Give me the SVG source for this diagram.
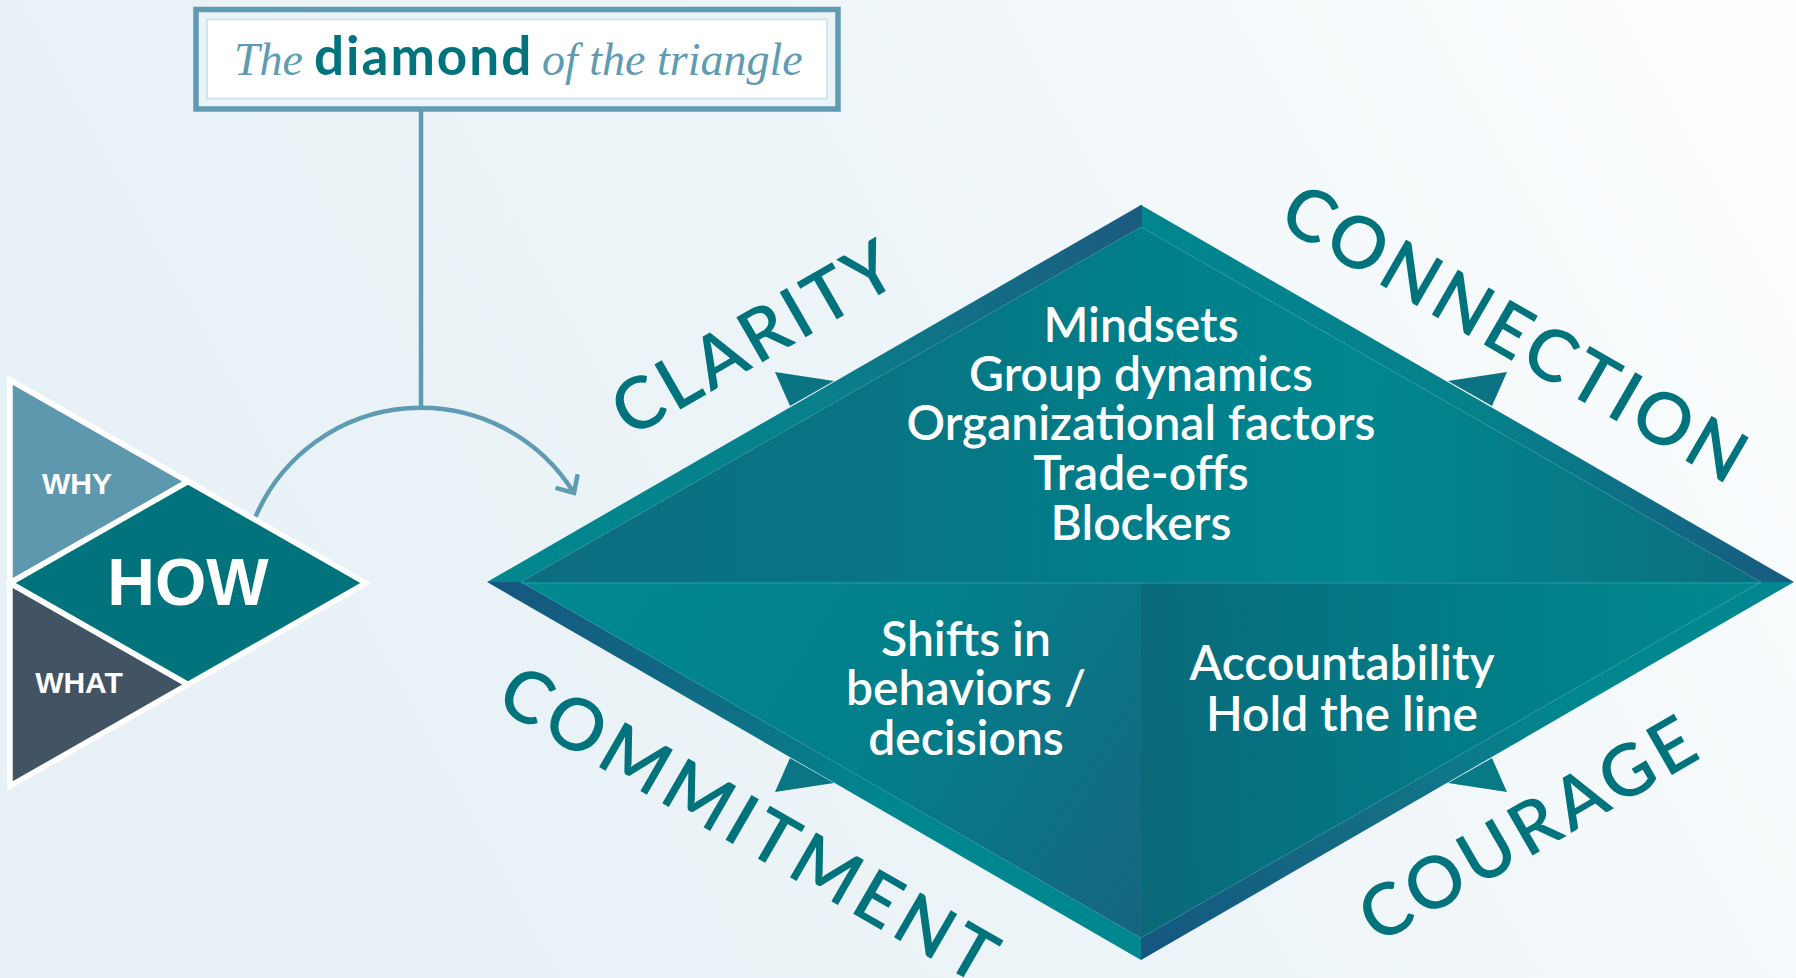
<svg xmlns="http://www.w3.org/2000/svg" width="1796" height="978" viewBox="0 0 1796 978">
<defs>
<style>
.lbl{font-family:Lato,"Noto Sans",sans-serif;font-weight:600;font-size:72px;fill:#00737d;text-anchor:middle}
.wt{font-family:Lato,"Noto Sans",sans-serif;font-weight:600;font-size:48px;fill:#ffffff;text-anchor:middle}
.tri{stroke:#ffffff;stroke-width:5.5;stroke-linejoin:miter}
.tt{font-family:"Liberation Sans",Arial,sans-serif;font-weight:bold;fill:#ffffff;text-anchor:middle}
.conn{fill:none;stroke:#5f9bb2;stroke-width:4.5}
</style>
<linearGradient id="bg" x1="0" y1="0.6" x2="1" y2="0.3">
<stop offset="0" stop-color="#e6f0f5"/><stop offset="0.55" stop-color="#eef5f8"/><stop offset="1" stop-color="#fbfdfe"/>
</linearGradient>
<linearGradient id="gUL" gradientUnits="userSpaceOnUse" x1="487" y1="582" x2="1141" y2="205">
<stop offset="0" stop-color="#00888f"/><stop offset="0.5" stop-color="#08808b"/><stop offset="1" stop-color="#1d5a80"/>
</linearGradient>
<linearGradient id="gUR" gradientUnits="userSpaceOnUse" x1="1141" y1="205" x2="1794" y2="582">
<stop offset="0" stop-color="#00868f"/><stop offset="0.55" stop-color="#06808b"/><stop offset="1" stop-color="#185a80"/>
</linearGradient>
<linearGradient id="gLL" gradientUnits="userSpaceOnUse" x1="487" y1="582" x2="1141" y2="960">
<stop offset="0" stop-color="#16567f"/><stop offset="0.35" stop-color="#0f6e85"/><stop offset="0.6" stop-color="#00868f"/><stop offset="1" stop-color="#00888f"/>
</linearGradient>
<linearGradient id="gLR" gradientUnits="userSpaceOnUse" x1="1141" y1="960" x2="1794" y2="582">
<stop offset="0" stop-color="#15567f"/><stop offset="0.4" stop-color="#137085"/><stop offset="0.65" stop-color="#00868f"/><stop offset="1" stop-color="#00888f"/>
</linearGradient>
<linearGradient id="gTop" gradientUnits="userSpaceOnUse" x1="521" y1="0" x2="1761" y2="0">
<stop offset="0" stop-color="#0d6d80"/><stop offset="0.3" stop-color="#087584"/><stop offset="0.5" stop-color="#007e89"/><stop offset="0.68" stop-color="#00878f"/><stop offset="0.85" stop-color="#067a86"/><stop offset="1" stop-color="#0d6e80"/>
</linearGradient>
<linearGradient id="gBL" gradientUnits="userSpaceOnUse" x1="580" y1="582" x2="1141" y2="938">
<stop offset="0" stop-color="#00888f"/><stop offset="0.5" stop-color="#027f8a"/><stop offset="1" stop-color="#176580"/>
</linearGradient>
<linearGradient id="gBR" gradientUnits="userSpaceOnUse" x1="1141" y1="620" x2="1761" y2="582">
<stop offset="0" stop-color="#0a6a7a"/><stop offset="0.5" stop-color="#017c87"/><stop offset="1" stop-color="#00898f"/>
</linearGradient>
<marker id="arr" markerUnits="userSpaceOnUse" markerWidth="40" markerHeight="40" viewBox="-20 -20 40 40" refX="0" refY="0" orient="auto">
<path d="M -14 -13 L 0 0 L -14 13" fill="none" stroke="#5f9bb2" stroke-width="4.5"/>
</marker>
</defs>
<rect x="0" y="0" width="1796" height="978" fill="url(#bg)"/>

<g id="title">
<rect x="196" y="9.5" width="642" height="99.5" fill="#eaf3f7" stroke="#5f9bb2" stroke-width="5.5"/>
<rect x="207" y="19.5" width="620" height="79" fill="#ffffff" stroke="#c9dee7" stroke-width="1.5"/>
<text y="75" font-size="46"><tspan x="234" font-family="'Liberation Serif',serif" font-style="italic" fill="#5f9bb2">The</tspan><tspan x="314" font-family="Lato,'Noto Sans',sans-serif" font-weight="bold" font-size="53" letter-spacing="2" fill="#00737d">diamond</tspan><tspan x="542" font-family="'Liberation Serif',serif" font-style="italic" fill="#5f9bb2">of the triangle</tspan></text>
</g>

<g id="connectors">
<line x1="421" y1="110" x2="421" y2="409" class="conn"/>
<path d="M 255.6 516.7 A 180 180 0 0 1 574 493" class="conn" marker-end="url(#arr)"/>
</g>

<g id="node-why">
<polygon points="10,380 188,481.5 10,583" fill="#5e98ae" class="tri"/>
<text x="77" y="494" font-size="30" class="tt">WHY</text>
</g>
<g id="node-what">
<polygon points="10,583 188,684.5 10,786" fill="#425463" class="tri"/>
<text x="79" y="693" font-size="30" class="tt">WHAT</text>
</g>
<g id="node-how">
<polygon points="10,583 188,481.5 366,583 188,684.5" fill="#00737d" class="tri"/>
<text x="188" y="605" font-size="66" class="tt">HOW</text>
</g>

<g id="diamond">
<polygon points="487,582 1141,205 1141,227 521,582" fill="url(#gUL)"/>
<polygon points="1141,205 1794,582 1761,582 1141,227" fill="url(#gUR)"/>
<polygon points="487,582 521,582 1141,938 1141,960" fill="url(#gLL)"/>
<polygon points="1141,960 1141,938 1761,582 1794,582" fill="url(#gLR)"/>
<line x1="1141" y1="205" x2="1141" y2="227" stroke="#175a7e" stroke-width="1.5"/>
<polygon points="790,406 775,372 834,381" fill="#0b7483"/>
<polygon points="1492,406 1507,372 1448,381" fill="#0a7282"/>
<polygon points="790,758 775,792 834,783" fill="#0a7585"/>
<polygon points="1492,758 1507,792 1448,783" fill="#077a86"/>
</g>

<g id="node-top">
<polygon points="521,582 1141,227 1761,582" fill="url(#gTop)"/>
<text class="wt"><tspan x="1141" y="342">Mindsets</tspan><tspan x="1141" y="391">Group dynamics</tspan><tspan x="1141" y="440">Organizational factors</tspan><tspan x="1141" y="490">Trade-offs</tspan><tspan x="1141" y="540">Blockers</tspan></text>
</g>
<g id="node-bottom-left">
<polygon points="521,582 1141,582 1141,938" fill="url(#gBL)"/>
<text class="wt"><tspan x="966" y="656">Shifts in</tspan><tspan x="966" y="705">behaviors /</tspan><tspan x="966" y="755">decisions</tspan></text>
</g>
<g id="node-bottom-right">
<polygon points="1141,582 1761,582 1141,938" fill="url(#gBR)"/>
<text class="wt"><tspan x="1342" y="680">Accountability</tspan><tspan x="1342" y="731">Hold the line</tspan></text>
</g>
<line x1="521" y1="583" x2="1761" y2="583" stroke="#2a98a3" stroke-width="1.2"/>

<g id="labels">
<text class="lbl" transform="translate(766,360) rotate(-30)" textLength="314" lengthAdjust="spacing">CLARITY</text>
<text class="lbl" transform="translate(1502,355) rotate(30)" textLength="522" lengthAdjust="spacing">CONNECTION</text>
<text class="lbl" transform="translate(736,846) rotate(30)" textLength="560" lengthAdjust="spacing">COMMITMENT</text>
<text class="lbl" transform="translate(1540,851) rotate(-30)" textLength="375" lengthAdjust="spacing">COURAGE</text>
</g>
</svg>
